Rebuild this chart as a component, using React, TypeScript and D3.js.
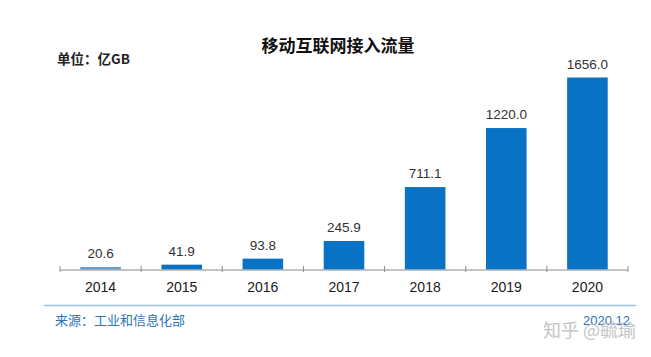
import React from "react";
import * as d3 from "d3";

const years = ["2014", "2015", "2016", "2017", "2018", "2019", "2020"];
const values = [20.6, 41.9, 93.8, 245.9, 711.1, 1220.0, 1656.0];
const valueLabels = ["20.6", "41.9", "93.8", "245.9", "711.1", "1220.0", "1656.0"];

const W = 651;
const H = 357;

export default function App() {
  const x = d3.scaleBand<string>().domain(years).range([60, 628]).paddingInner(0.5).paddingOuter(0.25);
  const y = d3.scaleLinear().domain([0, 1656]).range([269.5, 77.5]);
  const boundaries = d3.range(years.length + 1).map((i) => 60 + i * ((628 - 60) / years.length));
  const cjk = "'Noto Sans CJK SC', 'Noto Sans', sans-serif";
  const latin = "'Liberation Sans', Arial, sans-serif";
  return (
    <svg width={W} height={H} style={{ position: "absolute", left: 0, top: 0, background: "#fff" }}>
      <text x={338} y={52} textAnchor="middle" fontFamily={cjk} fontWeight="bold" fontSize={17} fill="#111">
        移动互联网接入流量
      </text>
      <text x={57} y={64} fontFamily={cjk} fontWeight="bold" fontSize={13.5} fill="#222">
        单位：亿GB
      </text>
      {years.map((yr, i) => (
        <rect
          key={yr}
          x={x(yr)!}
          y={y(values[i])}
          width={x.bandwidth()}
          height={269.5 - y(values[i])}
          fill={i === 0 ? "#5b9bd5" : "#0872c4"}
        />
      ))}
      {years.map((yr, i) => (
        <text
          key={"v" + yr}
          x={x(yr)! + x.bandwidth() / 2}
          y={y(values[i]) - 9}
          textAnchor="middle"
          fontFamily={latin}
          fontSize={13.5}
          fill="#333"
        >
          {valueLabels[i]}
        </text>
      ))}
      <line x1={60} x2={628} y1={270} y2={270} stroke="#8c8c8c" strokeWidth={1.2} />
      {boundaries.map((bx, i) => (
        <line key={"t" + i} x1={bx} x2={bx} y1={266} y2={272} stroke="#8c8c8c" strokeWidth={1} />
      ))}
      {years.map((yr) => (
        <text
          key={"l" + yr}
          x={x(yr)! + x.bandwidth() / 2}
          y={292}
          textAnchor="middle"
          fontFamily={latin}
          fontSize={14}
          fill="#1a1a1a"
        >
          {yr}
        </text>
      ))}
      <line x1={44} x2={636} y1={305.5} y2={305.5} stroke="#9dc3e6" strokeWidth={1.5} />
      <text x={55} y={325} fontFamily={cjk} fontSize={13} fill="#2e75b6">
        来源：工业和信息化部
      </text>
      <text x={630} y={325} textAnchor="end" fontFamily={latin} fontSize={13} fill="#2e75b6">
        2020.12
      </text>
      <text x={636} y={337} textAnchor="end" fontFamily={cjk} fontSize={18} fill="#bbbbbb" opacity={0.85}>
        知乎 @毓瑜
      </text>
    </svg>
  );
}
